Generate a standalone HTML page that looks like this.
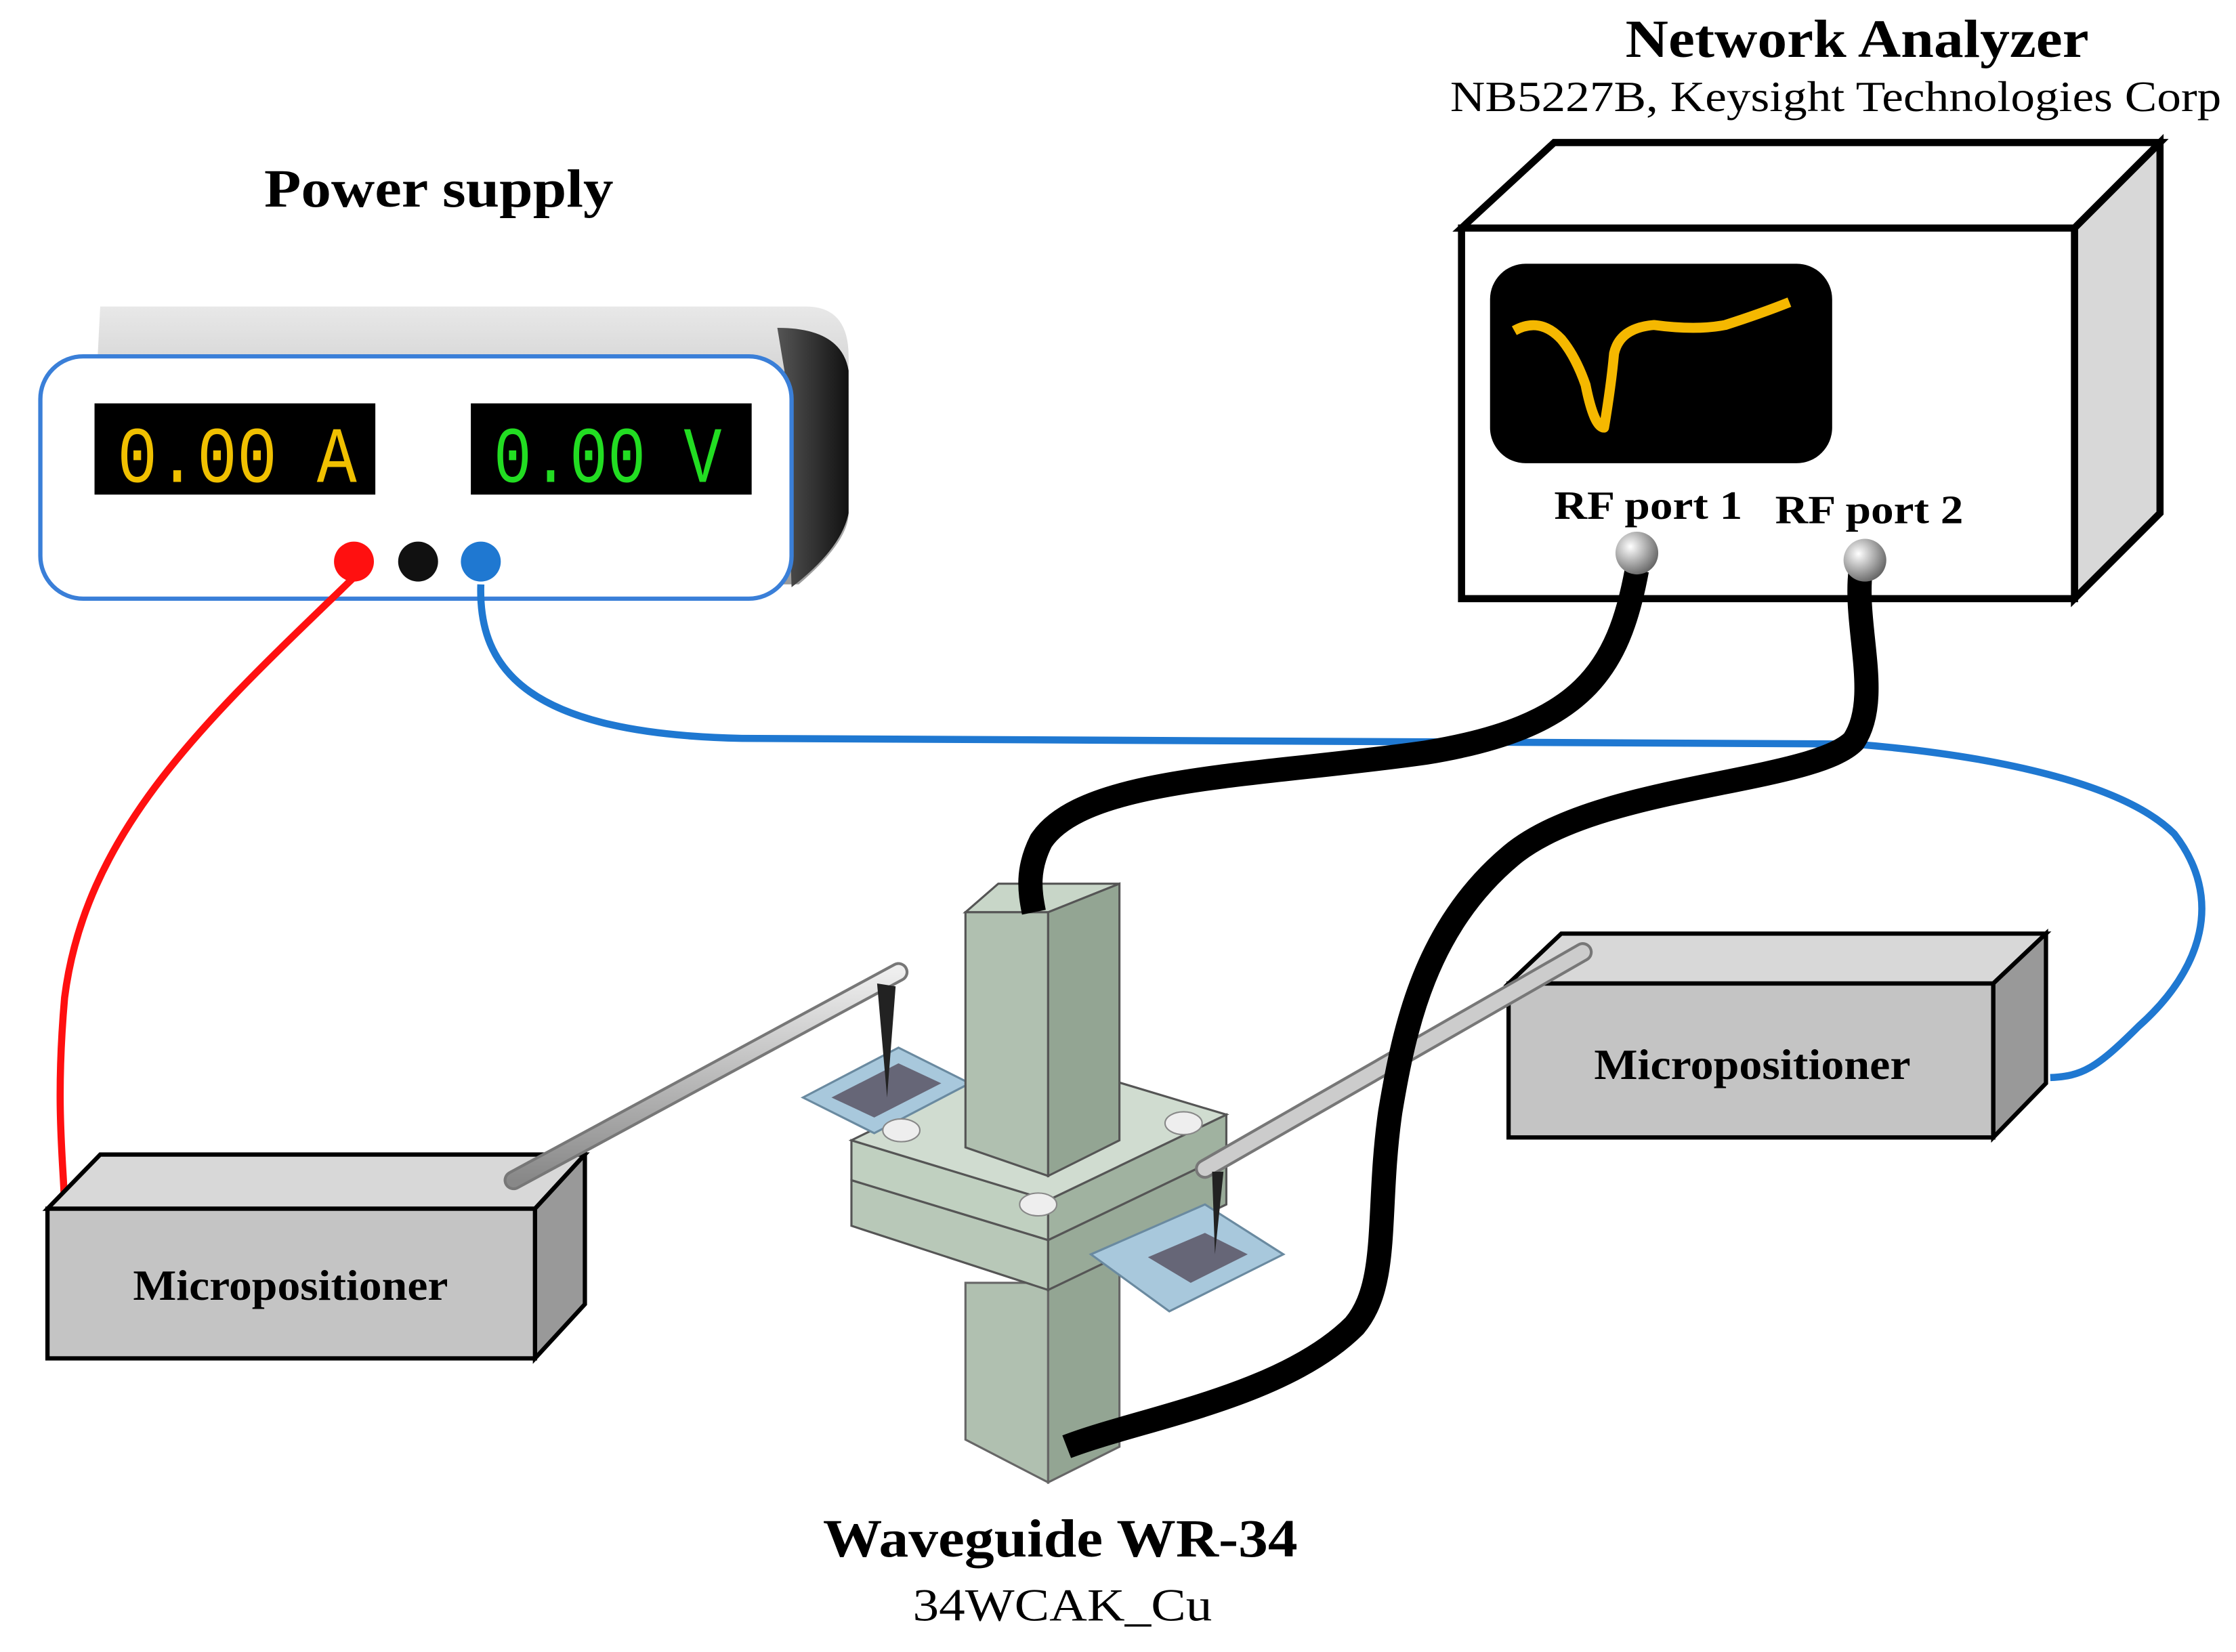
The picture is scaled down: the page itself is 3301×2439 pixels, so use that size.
<!DOCTYPE html>
<html><head><meta charset="utf-8"><style>
html,body{margin:0;padding:0;background:#fff;}
svg{display:block;}
</style></head><body>
<svg width="3301" height="2439" viewBox="0 0 1568 1159" xmlns="http://www.w3.org/2000/svg">
<defs>
<linearGradient id="psTop" x1="0" y1="0" x2="0" y2="1"><stop offset="0" stop-color="#e8e8e8"/><stop offset="1" stop-color="#9a9a9a"/></linearGradient>
<linearGradient id="psSide" x1="0" y1="0" x2="1" y2="0"><stop offset="0" stop-color="#555"/><stop offset="1" stop-color="#111"/></linearGradient>
<radialGradient id="ball" cx="0.35" cy="0.35" r="0.7"><stop offset="0" stop-color="#fff"/><stop offset="1" stop-color="#666"/></radialGradient>
<linearGradient id="arm" x1="0" y1="0" x2="0" y2="1"><stop offset="0" stop-color="#eee"/><stop offset="1" stop-color="#888"/></linearGradient>
</defs>
<rect width="1568" height="1159" fill="#fff"/>
<g font-family="Liberation Serif, serif" lengthAdjust="spacingAndGlyphs">
<text x="1140" y="40" font-size="38" font-weight="bold" textLength="325" lengthAdjust="spacingAndGlyphs">Network Analyzer</text>
<text x="1017" y="78" font-size="30" textLength="541" lengthAdjust="spacingAndGlyphs">NB5227B, Keysight Technologies Corp</text>
<text x="185" y="145" font-size="38" font-weight="bold" textLength="245" lengthAdjust="spacingAndGlyphs">Power supply</text>
</g>
<!-- Network analyzer -->
<polygon points="1025,160 1090,100 1515,100 1455,160" fill="#fff" stroke="#000" stroke-width="5"/>
<polygon points="1455,160 1515,100 1515,360 1455,420" fill="#d8d8d8" stroke="#000" stroke-width="5"/>
<rect x="1025" y="160" width="430" height="260" fill="#fff" stroke="#000" stroke-width="5"/>
<rect x="1045" y="185" width="240" height="140" rx="25" fill="#000"/>
<path d="M1062,232 Q1080,222 1095,238 Q1105,250 1112,270 Q1118,300 1125,300 Q1130,270 1132,248 Q1136,230 1160,228 Q1190,232 1210,228 Q1235,220 1255,212" fill="none" stroke="#f5b800" stroke-width="7" stroke-linejoin="round"/>
<g font-family="Liberation Serif, serif" font-weight="bold" font-size="28">
<text x="1090" y="364" textLength="132" lengthAdjust="spacingAndGlyphs">RF port 1</text>
<text x="1245" y="367" textLength="132" lengthAdjust="spacingAndGlyphs">RF port 2</text>
</g>
<!-- Power supply -->
<path d="M70,215 L565,215 Q595,215 595,250 L595,360 Q595,380 560,410 L60,410 Z" fill="url(#psTop)"/>
<path d="M545,230 Q590,230 595,260 L595,360 Q590,385 555,412 L550,260 Z" fill="url(#psSide)"/>
<rect x="28" y="250" width="527" height="170" rx="30" fill="#fff" stroke="#3a7fd8" stroke-width="3"/>
<rect x="66" y="283" width="197" height="64" fill="#000"/>
<rect x="330" y="283" width="197" height="64" fill="#000"/>
<text x="82" y="338" font-family="Liberation Mono, monospace" font-size="56" fill="#f0c000" textLength="168" lengthAdjust="spacingAndGlyphs">0.00 A</text>
<text x="346" y="338" font-family="Liberation Mono, monospace" font-size="56" fill="#22dd22" textLength="160" lengthAdjust="spacingAndGlyphs">0.00 V</text>
<!-- wires -->
<path d="M248,405 C150,500 60,580 45,700 C38,780 45,820 45,850" fill="none" stroke="#ff1010" stroke-width="5"/>
<path d="M337,410 C335,470 370,515 520,518 L1300,522 C1400,530 1490,550 1525,585 C1560,630 1545,680 1500,720 C1470,750 1460,755 1438,756" fill="none" stroke="#1f78d1" stroke-width="5"/>
<circle cx="248" cy="394" r="14" fill="#ff1010"/>
<circle cx="293" cy="394" r="14" fill="#111"/>
<circle cx="337" cy="394" r="14" fill="#1f78d1"/>
<!-- Micropositioners -->
<polygon points="33,848 70,810 410,810 375,848" fill="#d8d8d8" stroke="#000" stroke-width="3"/>
<polygon points="375,848 410,810 410,915 375,953" fill="#999" stroke="#000" stroke-width="3"/>
<rect x="33" y="848" width="342" height="105" fill="#c4c4c4" stroke="#000" stroke-width="3"/>
<polygon points="1058,690 1095,655 1435,655 1398,690" fill="#d8d8d8" stroke="#000" stroke-width="3"/>
<polygon points="1398,690 1435,655 1435,760 1398,798" fill="#999" stroke="#000" stroke-width="3"/>
<rect x="1058" y="690" width="340" height="108" fill="#c4c4c4" stroke="#000" stroke-width="3"/>
<g font-family="Liberation Serif, serif" font-weight="bold" font-size="30">
<text x="93" y="912" textLength="221" lengthAdjust="spacingAndGlyphs">Micropositioner</text>
<text x="1118" y="757" textLength="222" lengthAdjust="spacingAndGlyphs">Micropositioner</text>
</g>
<!-- Waveguide -->
<polygon points="677,900 735,900 735,1040 677,1010" fill="#b0c0b0" stroke="#666" stroke-width="1.5"/>
<polygon points="735,900 785,880 785,1015 735,1040" fill="#93a593" stroke="#666" stroke-width="1.5"/>
<polygon points="597,828 735,870 735,905 597,860" fill="#b8c8b8" stroke="#555" stroke-width="1.5"/>
<polygon points="735,870 860,810 860,845 735,905" fill="#98aa98" stroke="#555" stroke-width="1.5"/>
<polygon points="597,800 735,842 735,870 597,828" fill="#c0d0c0" stroke="#555" stroke-width="1.5"/>
<polygon points="735,842 860,782 860,810 735,870" fill="#a0b2a0" stroke="#555" stroke-width="1.5"/>
<polygon points="597,800 720,740 860,782 735,842" fill="#d0dcd0" stroke="#555" stroke-width="1.5"/>
<polygon points="563,770 630,735 680,760 613,795" fill="#a8c8dc" stroke="#6a8aa0" stroke-width="1.5"/>
<polygon points="583,770 630,746 660,760 613,784" fill="#667" />
<polygon points="765,880 845,845 900,880 820,920" fill="#a8c8dc" stroke="#6a8aa0" stroke-width="1.5"/>
<polygon points="805,882 845,865 875,880 835,900" fill="#667"/>
<polygon points="677,640 700,620 785,620 735,640" fill="#c8d6c8" stroke="#555" stroke-width="1.5"/>
<polygon points="677,640 735,640 735,825 677,805" fill="#b0c0b0" stroke="#555" stroke-width="1.5"/>
<polygon points="735,640 785,620 785,800 735,825" fill="#93a593" stroke="#555" stroke-width="1.5"/>
<ellipse cx="632" cy="793" rx="13" ry="8" fill="#eee" stroke="#888"/>
<ellipse cx="830" cy="788" rx="13" ry="8" fill="#eee" stroke="#888"/>
<ellipse cx="728" cy="845" rx="13" ry="8" fill="#eee" stroke="#888"/>
<!-- probe arms -->
<path d="M360,828 L630,682" stroke="#777" stroke-width="14" stroke-linecap="round"/>
<path d="M360,828 L630,682" stroke="url(#arm)" stroke-width="10" stroke-linecap="round"/>
<path d="M845,820 L1110,668" stroke="#777" stroke-width="14" stroke-linecap="round"/>
<path d="M845,820 L1110,668" stroke="#ccc" stroke-width="10" stroke-linecap="round"/>
<path d="M615,690 L622,770 L628,692 Z" fill="#222"/>
<path d="M850,822 L852,880 L858,822 Z" fill="#222"/>
<!-- black cables -->
<path d="M1148,400 C1135,470 1110,510 1000,528 C880,545 760,545 730,590 C720,610 722,625 725,640" fill="none" stroke="#000" stroke-width="17"/>
<path d="M1305,400 C1300,440 1320,490 1300,520 C1270,550 1120,550 1060,600 C1000,650 985,720 975,780 C965,850 975,900 950,930 C900,980 800,995 748,1015" fill="none" stroke="#000" stroke-width="17"/>
<circle cx="1148" cy="388" r="15" fill="url(#ball)"/>
<circle cx="1308" cy="393" r="15" fill="url(#ball)"/>
<g font-family="Liberation Serif, serif">
<text x="577" y="1092" font-size="38" font-weight="bold" textLength="333" lengthAdjust="spacingAndGlyphs">Waveguide WR-34</text>
<text x="640" y="1137" font-size="32" textLength="210" lengthAdjust="spacingAndGlyphs">34WCAK_Cu</text>
</g>
</svg>
</body></html>
